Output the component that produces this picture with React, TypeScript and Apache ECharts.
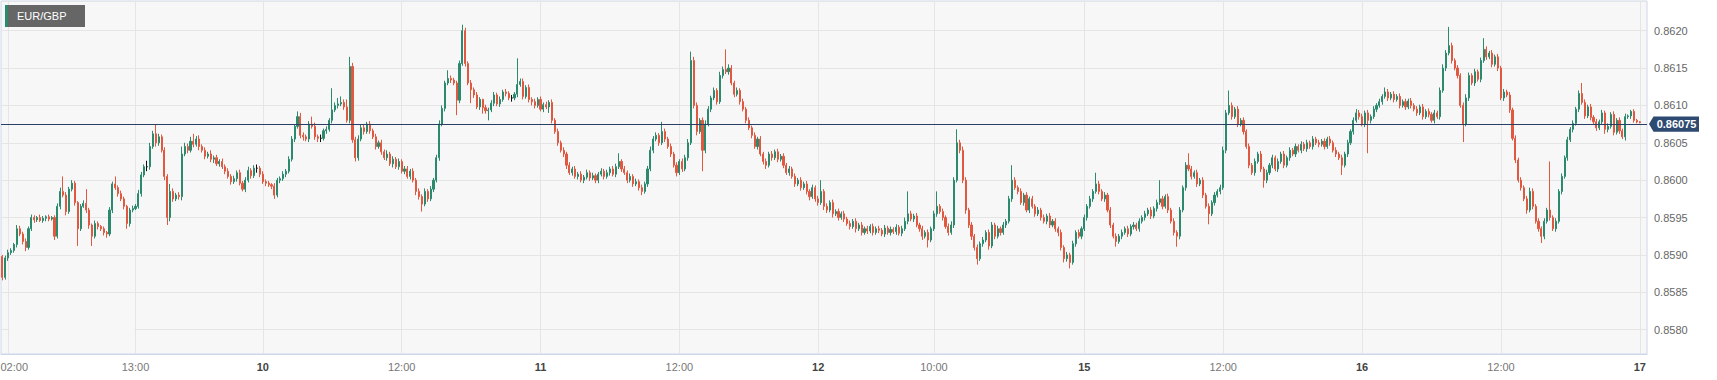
import React, { useEffect, useRef } from "react";
import * as echarts from "echarts";

// Prices are stored in units of 0.00001 above 0.85000 (e.g. 1075 -> 0.86075)
const PRICE_BASE = 0.85;
const PRICE_UNIT = 0.00001;
const FIRST_OPEN = 898;
const LAST_PRICE = 0.86075;
const Y_MIN = 0.8576745;
const Y_MAX = 0.862397;
const SYMBOL = "EUR/GBP";

// 15-minute candles. close values, upper wick and lower wick lengths
const d09Close = [
  870, 896, 903, 906, 914, 935, 928, 918, 910, 935,
  950, 947, 950, 946, 949, 951, 948, 950, 925, 965,
  985, 980, 958, 988, 996, 970, 935, 965, 969, 960,
  940, 925, 942, 938, 935, 930, 928, 960, 995, 990,
  982, 975, 965, 942, 960, 962, 965, 982, 1007, 1018,
  1018, 1045, 1062, 1050, 1058, 1040, 1005, 950, 985, 975,
  980, 978, 1035, 1045, 1040, 1052, 1048, 1055, 1045, 1040,
  1032, 1035, 1028, 1030, 1022, 1025, 1018, 1012, 1005, 998,
  1002, 1010, 996, 988, 1000, 1013, 1006, 1016, 1016, 1008,
];
const d09Up = [
  2, 3, 4, 3, 2, 5, 4, 3, 4, 3,
  4, 3, 2, 4, 3, 2, 3, 2, 3, 4,
  5, 20, 4, 3, 4, 3, 2, 3, 4, 19,
  3, 2, 4, 3, 2, 3, 2, 4, 3, 10,
  3, 4, 3, 2, 3, 4, 3, 5, 4, 3,
  8, 5, 4, 13, 4, 3, 4, 3, 10, 4,
  3, 4, 10, 5, 4, 6, 10, 4, 5, 3,
  4, 3, 5, 3, 4, 3, 4, 3, 4, 3,
  4, 3, 4, 3, 4, 5, 3, 4, 5, 3,
];
const d09Dn = [
  4, 3, 4, 3, 3, 4, 3, 4, 5, 3,
  3, 4, 3, 2, 3, 4, 3, 2, 5, 3,
  4, 3, 5, 3, 3, 4, 23, 3, 2, 4,
  5, 13, 3, 4, 3, 4, 5, 3, 4, 3,
  4, 3, 4, 7, 4, 3, 2, 3, 4, 3,
  6, 4, 3, 5, 4, 3, 5, 10, 5, 4,
  3, 4, 5, 3, 4, 3, 4, 3, 5, 3,
  4, 3, 4, 5, 3, 4, 3, 4, 3, 4,
  3, 4, 3, 3, 4, 3, 4, 3, 6, 4,
];

const d10Close = [
  998, 996, 994, 992, 980, 1000, 1002, 1008, 1012, 1028,
  1055, 1072, 1085, 1060, 1058, 1055, 1075, 1072, 1058, 1056,
  1056, 1066, 1068, 1080, 1094, 1100, 1102, 1104, 1098, 1080,
  1152, 1054, 1030, 1055, 1070, 1065, 1075, 1066, 1058, 1045,
  1050, 1038, 1030, 1035, 1022, 1028, 1018, 1025, 1012, 1015,
  1005, 1012, 1000, 985, 978, 968, 985, 975, 988, 1000,
  1030, 1075, 1096, 1130, 1136, 1134, 1130, 1107, 1156, 1200,
  1156, 1130, 1121, 1114, 1098, 1108, 1097, 1093, 1094, 1103,
  1114, 1102, 1108, 1118, 1116, 1110, 1110, 1115, 1128, 1132,
  1112, 1124, 1108, 1105, 1100, 1108,
];
const d10Up = [
  4, 3, 3, 2, 4, 3, 3, 4, 3, 4,
  4, 3, 7, 5, 4, 3, 4, 10, 5, 3,
  5, 3, 4, 3, 29, 4, 8, 8, 4, 10,
  13, 5, 4, 5, 4, 5, 3, 4, 3, 4,
  3, 4, 3, 5, 3, 4, 3, 4, 3, 4,
  4, 3, 4, 3, 4, 3, 4, 3, 4, 3,
  4, 5, 4, 3, 11, 4, 3, 3, 4, 8,
  4, 3, 4, 3, 4, 3, 1, 4, 3, 4,
  4, 3, 4, 3, 4, 3, 4, 3, 35, 4,
  4, 3, 4, 3, 4, 3,
];
const d10Dn = [
  3, 4, 3, 4, 5, 3, 4, 3, 4, 3,
  3, 4, 3, 4, 5, 3, 4, 3, 4, 5,
  5, 3, 4, 3, 4, 3, 4, 3, 4, 3,
  4, 4, 5, 4, 3, 4, 3, 4, 3, 4,
  3, 4, 3, 4, 3, 5, 3, 4, 3, 4,
  3, 4, 3, 5, 4, 10, 3, 4, 3, 4,
  3, 4, 3, 4, 3, 4, 3, 20, 4, 3,
  4, 3, 18, 4, 3, 4, 8, 4, 13, 3,
  4, 3, 4, 3, 4, 3, 5, 3, 4, 3,
  4, 3, 4, 5, 4, 3,
];

const d11Close = [
  1095, 1101, 1098, 1104, 1080, 1065, 1050, 1040, 1035, 1020,
  1010, 1015, 1005, 1008, 1000, 1004, 1010, 1003, 1006, 1000,
  1008, 1012, 1005, 1010, 1015, 1008, 1018, 1025, 1015, 1010,
  1000, 1005, 995, 998, 990, 985, 995, 1015, 1040, 1055,
  1060, 1050, 1065, 1055, 1045, 1035, 1020, 1010, 1025, 1015,
  1030, 1050, 1160, 1100, 1065, 1080, 1040, 1075, 1095, 1110,
  1120, 1105, 1140, 1148, 1145, 1150, 1130, 1115, 1120, 1105,
  1095, 1080, 1070, 1060, 1045, 1055, 1035, 1025, 1020, 1035,
  1030, 1038, 1028, 1032, 1020, 1010, 1015, 1005, 995, 1000,
  990, 995, 985, 978, 990, 975,
];
const d11Up = [
  4, 3, 4, 3, 4, 3, 4, 3, 4, 3,
  4, 3, 4, 3, 4, 3, 4, 3, 4, 3,
  3, 4, 3, 4, 3, 4, 4, 11, 3, 4,
  3, 4, 3, 4, 3, 4, 3, 4, 5, 4,
  4, 3, 13, 4, 3, 4, 3, 4, 3, 4,
  4, 5, 12, 5, 4, 3, 4, 5, 4, 3,
  4, 3, 5, 4, 27, 5, 4, 3, 4, 3,
  4, 3, 4, 3, 4, 3, 4, 3, 4, 3,
  4, 3, 4, 3, 4, 3, 4, 3, 4, 3,
  4, 3, 4, 3, 4, 3,
];
const d11Dn = [
  3, 4, 3, 8, 4, 3, 4, 3, 4, 5,
  3, 4, 3, 4, 3, 4, 3, 4, 3, 4,
  4, 3, 4, 3, 4, 3, 4, 3, 4, 3,
  4, 3, 4, 3, 4, 5, 3, 4, 3, 4,
  3, 4, 3, 4, 3, 4, 3, 5, 3, 4,
  3, 4, 3, 4, 5, 3, 28, 4, 3, 4,
  3, 4, 3, 4, 3, 4, 3, 4, 3, 4,
  3, 4, 3, 4, 3, 4, 3, 4, 5, 3,
  4, 3, 4, 3, 4, 3, 4, 3, 4, 3,
  4, 3, 4, 5, 3, 4,
];

const d12Close = [
  970, 985, 965, 960, 970, 955, 958, 950, 955, 948,
  942, 938, 945, 935, 940, 930, 935, 932, 938, 930,
  935, 933, 928, 936, 930, 934, 931, 937, 929, 935,
  945, 955, 948, 952, 940, 935, 925, 930, 920, 935,
  955, 965, 958, 950, 938, 930, 940, 1000, 1050, 1040,
  1000, 960, 940, 925, 910, 895, 915, 920, 930, 912,
  940, 925, 935, 930, 940, 945, 975, 1000, 990, 985,
  970, 980, 960, 975, 965, 955, 960, 950, 945, 952,
  940, 945, 935, 930, 910, 895, 900, 890, 915, 930,
  925, 935,
];
const d12Up = [
  4, 15, 3, 4, 3, 4, 3, 4, 3, 4,
  3, 4, 3, 4, 3, 4, 3, 4, 3, 4,
  3, 4, 3, 4, 3, 4, 3, 4, 3, 4,
  5, 30, 4, 3, 4, 3, 4, 3, 4, 3,
  4, 20, 3, 4, 3, 4, 5, 4, 18, 4,
  5, 4, 3, 4, 3, 4, 3, 4, 3, 4,
  4, 3, 4, 3, 4, 3, 4, 20, 4, 3,
  4, 3, 4, 3, 4, 3, 4, 3, 4, 3,
  4, 3, 4, 3, 4, 3, 4, 3, 4, 3,
  4, 3,
];
const d12Dn = [
  4, 3, 5, 4, 3, 5, 3, 4, 3, 4,
  3, 4, 3, 5, 3, 4, 3, 4, 3, 4,
  3, 4, 3, 4, 3, 4, 3, 4, 3, 4,
  3, 4, 3, 4, 3, 4, 5, 3, 10, 3,
  3, 4, 3, 4, 3, 4, 3, 4, 3, 4,
  4, 5, 4, 5, 4, 8, 3, 4, 3, 5,
  3, 4, 3, 4, 3, 4, 3, 4, 3, 4,
  3, 4, 3, 4, 3, 4, 3, 4, 3, 4,
  4, 3, 4, 5, 4, 5, 4, 8, 3, 4,
  3, 4,
];

const d15Close = [
  950, 965, 975, 985, 995, 985, 975, 980, 960, 940,
  925, 918, 925, 930, 935, 928, 938, 940, 935, 945,
  950, 955, 960, 952, 962, 970, 975, 965, 978, 960,
  945, 930, 925, 960, 990, 1020, 1015, 1005, 1010, 995,
  1000, 980, 965, 955, 970, 980, 985, 990, 1040, 1090,
  1100, 1085, 1095, 1075, 1080, 1065, 1045, 1020, 1010, 1025,
  1035, 1015, 1000, 1010, 1020, 1030, 1015, 1025, 1035, 1020,
  1030, 1040, 1035, 1045, 1040, 1048, 1042, 1050, 1045, 1055,
  1050, 1048, 1052, 1045, 1055, 1050, 1040, 1035, 1030, 1020,
  1035, 1050, 1065, 1080, 1090, 1085,
];
const d15Up = [
  4, 3, 4, 3, 15, 4, 3, 4, 3, 4,
  3, 4, 3, 4, 3, 4, 3, 4, 3, 4,
  3, 4, 3, 4, 3, 4, 25, 4, 3, 4,
  3, 4, 3, 4, 3, 4, 16, 4, 3, 4,
  3, 4, 3, 4, 3, 4, 3, 4, 5, 4,
  20, 4, 3, 4, 3, 4, 3, 4, 3, 4,
  3, 4, 3, 4, 3, 4, 3, 4, 3, 4,
  3, 4, 3, 4, 3, 4, 3, 4, 3, 4,
  3, 4, 3, 4, 3, 4, 3, 4, 3, 4,
  3, 4, 3, 4, 5, 4,
];
const d15Dn = [
  3, 4, 3, 4, 3, 4, 3, 4, 3, 4,
  3, 7, 3, 4, 3, 4, 3, 4, 3, 4,
  3, 4, 3, 4, 3, 4, 3, 4, 3, 4,
  3, 4, 14, 4, 3, 4, 3, 4, 3, 4,
  3, 4, 3, 14, 3, 4, 3, 4, 3, 4,
  3, 4, 3, 4, 3, 4, 3, 4, 3, 4,
  3, 4, 10, 4, 3, 4, 3, 4, 3, 4,
  3, 4, 3, 4, 3, 4, 3, 4, 3, 4,
  3, 4, 3, 4, 3, 4, 3, 4, 3, 13,
  3, 4, 3, 4, 3, 4,
];

const d16Close = [
  1075, 1090, 1080, 1085, 1095, 1100, 1105, 1112, 1118, 1110,
  1115, 1108, 1112, 1100, 1105, 1098, 1106, 1100, 1095, 1090,
  1098, 1085, 1092, 1088, 1080, 1090, 1085, 1120, 1150, 1170,
  1180, 1160, 1150, 1140, 1100, 1075, 1110, 1140, 1130, 1145,
  1135, 1160, 1175, 1165, 1170, 1155, 1165, 1150, 1110, 1118,
  1114, 1094, 1056, 1027, 1000, 990, 975, 960, 985, 965,
  945, 935, 925, 945, 960, 950, 935, 945, 985, 1005,
  1030, 1054, 1068, 1076, 1095, 1116, 1104, 1086, 1098, 1084,
  1078, 1070, 1078, 1090, 1068, 1072, 1088, 1064, 1080, 1066,
  1058, 1085, 1086, 1092, 1080, 1078,
];
const d16Up = [
  4, 3, 4, 3, 4, 3, 4, 3, 6, 4,
  3, 4, 3, 4, 3, 4, 3, 4, 3, 4,
  3, 4, 3, 4, 3, 4, 3, 4, 5, 4,
  25, 4, 3, 4, 3, 4, 5, 4, 3, 4,
  3, 4, 15, 4, 3, 4, 3, 4, 3, 4,
  3, 4, 3, 4, 3, 4, 3, 4, 5, 4,
  3, 4, 3, 4, 3, 65, 3, 4, 3, 4,
  3, 4, 3, 4, 3, 4, 14, 4, 3, 4,
  3, 4, 3, 4, 3, 4, 3, 4, 3, 4,
  3, 4, 2, 2, 3, 2,
];
const d16Dn = [
  3, 4, 44, 4, 3, 4, 3, 4, 3, 4,
  3, 4, 3, 4, 3, 4, 3, 4, 3, 4,
  3, 4, 3, 4, 3, 4, 3, 4, 3, 4,
  3, 4, 3, 4, 3, 24, 3, 4, 3, 4,
  3, 4, 3, 4, 3, 4, 3, 4, 3, 4,
  3, 4, 3, 4, 3, 4, 3, 5, 3, 4,
  3, 4, 9, 4, 3, 4, 3, 4, 3, 4,
  3, 4, 3, 4, 3, 4, 3, 4, 3, 4,
  3, 4, 3, 4, 6, 4, 3, 4, 3, 4,
  3, 5, 3, 4, 3, 2,
];

const d17Close = [1077];
const d17Up = [1];
const d17Dn = [1];

// session start minute (after midnight) for each trading day shown
const sessions = [
  { day: "09", startMin: 90, close: d09Close, up: d09Up, dn: d09Dn },
  { day: "10", startMin: 0, close: d10Close, up: d10Up, dn: d10Dn },
  { day: "11", startMin: 0, close: d11Close, up: d11Up, dn: d11Dn },
  { day: "12", startMin: 0, close: d12Close, up: d12Up, dn: d12Dn },
  { day: "15", startMin: 0, close: d15Close, up: d15Up, dn: d15Dn },
  { day: "16", startMin: 0, close: d16Close, up: d16Up, dn: d16Dn },
  { day: "17", startMin: 0, close: d17Close, up: d17Up, dn: d17Dn },
];

const tickLabels = [
  "09 02:00", "09 13:00", "10 00:00", "10 12:00", "11 00:00", "11 12:00",
  "12 00:00", "12 10:00", "15 00:00", "15 12:00", "16 00:00", "16 12:00", "17 00:00",
];
const PAD_SLOTS = 2;
// the chart's lowest grid level has a short gap between these two ticks
const GAP_LEVEL = 0.858;
const GAP_FROM = "09 02:00";
const GAP_TO = "09 13:00";

const UP = "#2b8a6e";
const DOWN = "#e0583f";
const FONT = "'Liberation Sans', Arial, Helvetica, sans-serif";

function toPrice(v: number) {
  return +(PRICE_BASE + v * PRICE_UNIT).toFixed(5);
}

function buildData() {
  const cats: string[] = [];
  const candles: any[] = [];
  let prev = FIRST_OPEN;
  sessions.forEach((s) => {
    s.close.forEach((c, k) => {
      const m = s.startMin + 15 * k;
      const hh = String(Math.floor(m / 60)).padStart(2, "0");
      const mm = String(m % 60).padStart(2, "0");
      cats.push(`${s.day} ${hh}:${mm}`);
      const o = prev;
      const hi = Math.max(o, c) + s.up[k];
      const lo = Math.min(o, c) - s.dn[k];
      const item: any = { value: [toPrice(o), toPrice(c), toPrice(lo), toPrice(hi)] };
      if (o === c) {
        item.itemStyle = { color: "#111", color0: "#111", borderColor: "#111", borderColor0: "#111" };
      }
      candles.push(item);
      prev = c;
    });
  });
  for (let i = 0; i < PAD_SLOTS; i++) {
    cats.push("pad" + i);
    candles.push("-");
  }
  return { cats, candles };
}

export default function App() {
  const ref = useRef<HTMLDivElement>(null);
  useEffect(() => {
    document.body.style.margin = "0";
    const el = ref.current!;
    const chart = echarts.init(el, null, { renderer: "svg" });
    const { cats, candles } = buildData();
    const tickSet = new Set(tickLabels);
    const showTick = (_i: number, v: string) => tickSet.has(v);
    const GRID_LEFT = 1;
    const GRID_RIGHT = 70;
    chart.setOption({
      animation: false,
      backgroundColor: "#ffffff",
      grid: {
        left: GRID_LEFT,
        right: GRID_RIGHT,
        top: 1,
        bottom: 26,
        containLabel: false,
        outerBoundsMode: "none",
        show: true,
        backgroundColor: "#f7f7f7",
        borderColor: "#cfd6ea",
        borderWidth: 1,
      },
      xAxis: {
        type: "category",
        data: cats,
        boundaryGap: true,
        axisLine: { show: true, lineStyle: { color: "#cfd6ea", width: 1 } },
        axisTick: { show: false, alignWithLabel: true },
        axisLabel: {
          interval: showTick,
          margin: 7,
          fontFamily: FONT,
          fontSize: 11,
          formatter: (v: string) => {
            if (v === tickLabels[0]) return `{f|${v.slice(3)}}`;
            return v.endsWith("00:00") ? `{d|${Number(v.slice(0, 2))}}` : `{t|${v.slice(3)}}`;
          },
          rich: {
            d: { fontWeight: "bold", color: "#444", fontSize: 11, fontFamily: FONT },
            t: { color: "#777", fontSize: 11, fontFamily: FONT },
            f: { color: "#777", fontSize: 11, fontFamily: FONT, padding: [0, 0, 0, 12] },
          },
        },
        splitLine: {
          show: true,
          interval: showTick,
          alignWithLabel: true,
          lineStyle: { color: "#e5e5e5", width: 1 },
        },
      },
      yAxis: {
        type: "value",
        position: "right",
        min: Y_MIN,
        max: Y_MAX,
        scale: true,
        splitNumber: 9,
        minInterval: 0.0005,
        maxInterval: 0.0005,
        axisLine: { show: false },
        axisTick: { show: false },
        axisLabel: {
          margin: 7,
          color: "#666",
          fontSize: 11,
          fontFamily: FONT,
          formatter: (v: number) => {
            const r = Math.round(v / 0.0005) * 0.0005;
            return Math.abs(r - v) < 1e-9 ? v.toFixed(4) : "";
          },
        },
        splitLine: { show: true, lineStyle: { color: "#e5e5e5", width: 1 } },
      },
      series: [
        {
          type: "candlestick",
          data: candles,
          barWidth: 1.6,
          large: false,
          clip: true,
          itemStyle: {
            color: UP,
            color0: DOWN,
            borderColor: UP,
            borderColor0: DOWN,
            borderColorDoji: "#111",
            borderWidth: 1,
          },
        },
      ],
    });

    const y = chart.convertToPixel({ yAxisIndex: 0 }, LAST_PRICE) as number;
    const gy = chart.convertToPixel({ yAxisIndex: 0 }, GAP_LEVEL) as number;
    const gx1 = chart.convertToPixel({ xAxisIndex: 0 }, GAP_FROM) as number;
    const gx2 = chart.convertToPixel({ xAxisIndex: 0 }, GAP_TO) as number;
    const xr = el.clientWidth - GRID_RIGHT;
    const h = 7.7;
    chart.setOption({
      graphic: [
        {
          id: "gridGap",
          type: "rect",
          z: 1,
          shape: { x: gx1 + 1, y: Math.round(gy) - 1.5, width: gx2 - gx1 - 2, height: 3 },
          style: { fill: "#f7f7f7" },
        },
        {
          id: "symbolBox",
          type: "group",
          left: 5,
          top: 5,
          children: [
            { type: "rect", shape: { x: 0, y: 0, width: 80, height: 22 }, style: { fill: "#666666" } },
            { type: "rect", shape: { x: 0, y: 0, width: 3, height: 22 }, style: { fill: "#2b8a6e" } },
            {
              type: "text",
              x: 12,
              y: 11,
              style: {
                text: SYMBOL,
                fill: "#ffffff",
                font: `11px ${FONT}`,
                verticalAlign: "middle",
                textVerticalAlign: "middle",
              },
            },
          ],
        },
        {
          id: "priceLine",
          type: "line",
          z: 50,
          shape: { x1: GRID_LEFT, y1: Math.round(y) + 0.5, x2: xr, y2: Math.round(y) + 0.5 },
          style: { stroke: "#2b3f66", lineWidth: 1 },
        },
        {
          id: "priceTag",
          type: "polygon",
          z: 51,
          shape: {
            points: [
              [xr + 2, y],
              [xr + 6.5, y - h],
              [xr + 52, y - h],
              [xr + 52, y + h],
              [xr + 6.5, y + h],
            ],
          },
          style: { fill: "#2e4a70" },
        },
        {
          id: "priceText",
          type: "text",
          z: 52,
          x: xr + 29.5,
          y: y,
          style: {
            text: LAST_PRICE.toFixed(5),
            fill: "#ffffff",
            font: `bold 11px ${FONT}`,
            align: "center",
            textAlign: "center",
            verticalAlign: "middle",
            textVerticalAlign: "middle",
          },
        },
      ],
    });
    return () => chart.dispose();
  }, []);
  return <div ref={ref} style={{ width: 1717, height: 380 }} />;
}
